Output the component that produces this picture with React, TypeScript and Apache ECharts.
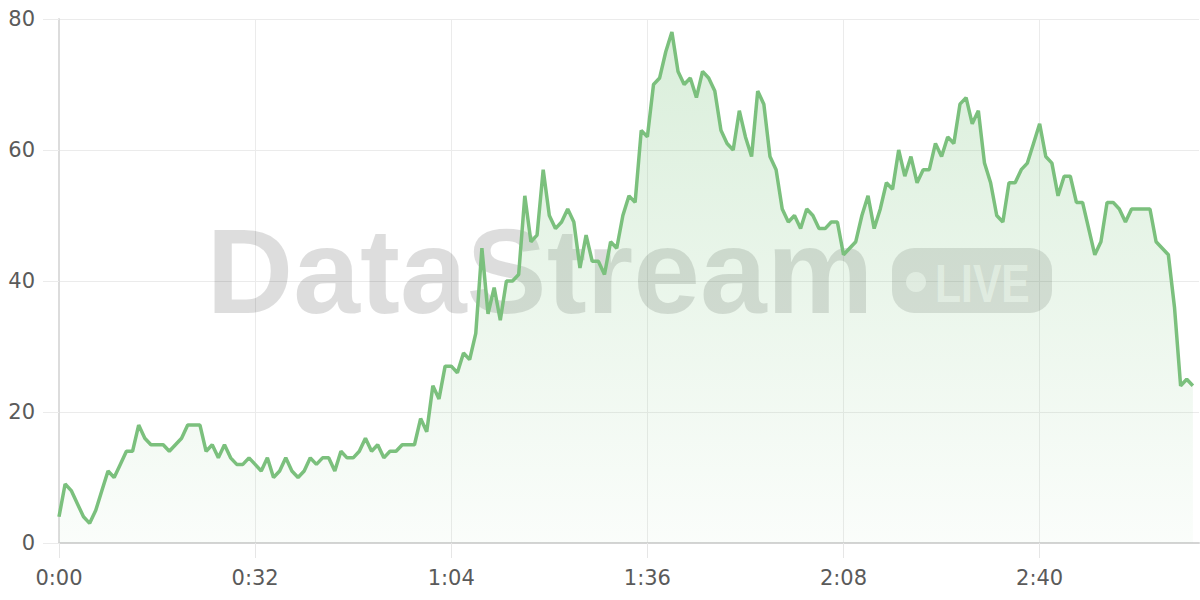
import React, { useEffect, useRef } from "react";
import * as echarts from "echarts";

// x-axis: one category per second, 0:00 .. 3:06
const AXIS_SECONDS = 187;
const timeLabels: string[] = Array.from({ length: AXIS_SECONDS }, (_, s) =>
  `${Math.floor(s / 60)}:${String(s % 60).padStart(2, "0")}`
);

// y-axis
const yMin = 0;
const yMax = 80;
const yStep = 20;

// values per second
const warmup = [
  4, 9, 8, 6, 4, 3, 5, 8, 11, 10, 12, 14, 14, 18, 16, 15, 15, 15, 14, 15,
  16, 18, 18, 18, 14, 15, 13, 15, 13, 12,
];
const idle = [
  12, 13, 12, 11, 13, 10, 11, 13, 11, 10, 11, 13, 12, 13, 13, 11, 14, 13, 13, 14,
  16, 14, 15, 13, 14, 14, 15, 15, 15, 19,
];
const ramp = [
  17, 24, 22, 27, 27, 26, 29, 28, 32, 45, 35, 39, 34, 40, 40, 41, 53, 46, 47, 57,
  50, 48, 49, 51, 49, 42, 47, 43, 43, 41, 46, 45,
];
const peak = [
  50, 53, 52, 63, 62, 70, 71, 75, 78, 72, 70, 71, 68, 72, 71, 69, 63, 61, 60, 66,
  62, 59, 69, 67, 59, 57, 51, 49, 50, 48, 51,
];
const plateau = [
  50, 48, 48, 49, 49, 44, 45, 46, 50, 53, 48, 51, 55, 54, 60, 56, 59, 55, 57, 57,
  61, 59, 62, 61, 67, 68, 64, 66, 58, 55, 50,
];
const tail = [
  49, 55, 55, 57, 58, 61, 64, 59, 58, 53, 56, 56, 52, 52, 48, 44, 46, 52, 52, 51,
  49, 51, 51, 51, 51, 46, 45, 44, 36, 24, 25, 24,
];
const values = [...warmup, ...idle, ...ramp, ...peak, ...plateau, ...tail];

const LINE = "#7bc07d";
const LABEL_FONT = '"DejaVu Sans", sans-serif';

export default function App() {
  const ref = useRef<HTMLDivElement>(null);

  useEffect(() => {
    if (!ref.current) return;
    const chart = echarts.init(ref.current, undefined, { renderer: "svg" });
    chart.setOption({
      animation: false,
      backgroundColor: "#ffffff",
      grid: { left: 59, right: 1, top: 19, bottom: 57, containLabel: false },
      xAxis: {
        type: "category",
        data: timeLabels,
        boundaryGap: false,
        axisLine: { show: true, lineStyle: { color: "#d4d4d4", width: 2 } },
        axisTick: {
          show: true,
          interval: 31,
          length: 15,
          lineStyle: { color: "#e6e6e6", width: 1 },
        },
        splitLine: {
          show: true,
          interval: 31,
          lineStyle: { color: "#ebebeb", width: 1 },
        },
        axisLabel: {
          interval: 31,
          margin: 24,
          color: "#5a5a5a",
          fontSize: 21,
          fontFamily: LABEL_FONT,
        },
      },
      yAxis: {
        type: "value",
        min: yMin,
        max: yMax,
        interval: yStep,
        axisLine: { show: true, lineStyle: { color: "#dcdcdc", width: 2 } },
        axisTick: {
          show: true,
          length: 16,
          lineStyle: { color: "#ebebeb", width: 1 },
        },
        splitLine: { show: true, lineStyle: { color: "#ebebeb", width: 1 } },
        axisLabel: {
          margin: 24,
          color: "#5a5a5a",
          fontSize: 21,
          fontFamily: LABEL_FONT,
        },
      },
      graphic: [
        {
          type: "text",
          x: 540,
          y: 271,
          z: 1,
          silent: true,
          style: {
            text: "DataStream",
            font: 'bold 120px "Liberation Sans", Arial, sans-serif',
            fill: "rgba(0,0,0,0.135)",
            align: "center",
            verticalAlign: "middle",
          },
        },
        {
          type: "rect",
          z: 1,
          silent: true,
          shape: { x: 892, y: 248, width: 160, height: 65, r: 22 },
          style: { fill: "rgba(0,0,0,0.12)" },
        },
        {
          type: "circle",
          z: 1,
          silent: true,
          shape: { cx: 916, cy: 282, r: 10 },
          style: { fill: "rgba(255,255,255,0.62)" },
        },
        {
          type: "text",
          x: 935,
          y: 283,
          scaleX: 0.79,
          z: 1,
          silent: true,
          style: {
            text: "LIVE",
            font: 'bold 54px "Liberation Sans", Arial, sans-serif',
            fill: "rgba(255,255,255,0.62)",
            align: "left",
            verticalAlign: "middle",
          },
        },
      ],
      series: [
        {
          type: "line",
          data: values,
          symbol: "none",
          showSymbol: false,
          z: 3,
          lineStyle: { color: LINE, width: 3.5 },
          itemStyle: { color: LINE },
          areaStyle: {
            color: new echarts.graphic.LinearGradient(0, 0, 0, 1, [
              { offset: 0, color: "rgba(129,199,132,0.42)" },
              { offset: 1, color: "rgba(129,199,132,0.05)" },
            ]),
          },
        },
      ],
    });
    return () => chart.dispose();
  }, []);

  return (
    <div
      ref={ref}
      style={{ position: "fixed", left: 0, top: 0, width: 1200, height: 600 }}
    />
  );
}
